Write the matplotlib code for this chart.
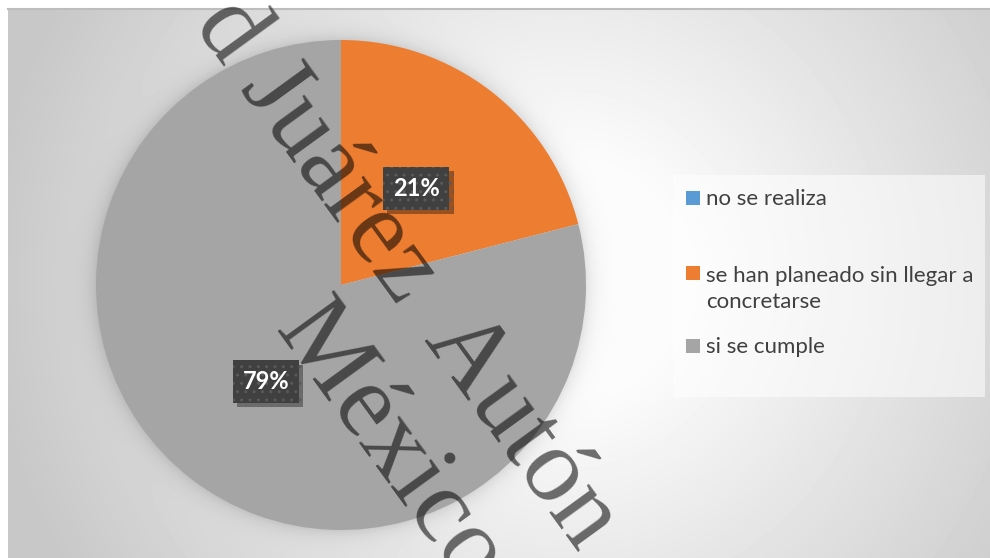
import textwrap
import numpy as np
import matplotlib.pyplot as plt
from matplotlib import patheffects
from matplotlib.patches import Rectangle

categories = ['no se realiza', 'se han planeado sin llegar a concretarse', 'si se cumple']
values = [0, 21, 79]
colors = ['#5B9BD5', '#ED7D31', '#A5A5A5']
# watermark pieces (the original line is a little stretched, so it is set in parts)
watermark = ['d Juárez', 'Autón', 'México']

W, H = 990, 558
fig = plt.figure(figsize=(W / 100, H / 100), dpi=100)


def px(x, y):
    # pixel position (from top-left) -> figure fraction
    return x / W, 1 - y / H


# chart area: soft radial gradient plus pie shadow
x0, y0 = 8, 9
cx, cy, R = 341, 285, 245
bg = fig.add_axes([x0 / W, 0, (W - x0) / W, (H - y0) / H])
yy, xx = np.mgrid[y0:H, x0:W] + 0.5
r = np.hypot(xx - 560, yy - 280)
shade = 252 - 52 * np.clip((r - 120) / 450, 0, 1)
dist = np.hypot(xx - cx, yy - cy) - R
shade -= 26 * np.exp(-np.clip(dist, 0, None) / 9)
bg.imshow(np.clip(shade, 0, 255) / 255, cmap='gray', vmin=0, vmax=1,
          aspect='auto', interpolation='bilinear')
bg.axis('off')
fig.add_artist(plt.Line2D([x0 / W, 1], [1 - y0 / H] * 2, color='#BDBDBD', lw=1.5))

# pie
ax = fig.add_axes([(cx - R) / W, 1 - (cy + R) / H, 2 * R / W, 2 * R / H])
wedges, texts, autotexts = ax.pie(
    values, colors=colors, startangle=90, counterclock=False,
    autopct=lambda p: f'{p:.0f}%' if p > 0 else '', pctdistance=0.5,
    textprops=dict(color='white', fontsize=17, fontweight='bold', family='Lato'),
    wedgeprops=dict(linewidth=0))
ax.set_xlim(-1, 1)
ax.set_ylim(-1, 1)
for t in autotexts:
    if t.get_text():
        t.set_bbox(dict(boxstyle='square,pad=0.42', fc='#404040', ec='#595959',
                        lw=0, hatch='..'))
        t.get_bbox_patch().set_path_effects([
            patheffects.withSimplePatchShadow(offset=(3, -3), shadow_rgbFace='black',
                                              alpha=0.35)])

# legend, drawn by hand to follow the original spacing
fig.add_artist(Rectangle(px(673, 397), 312 / W, 222 / H, transform=fig.transFigure,
                         fc='white', alpha=0.55, ec='none'))
baselines = [205, 280, 353]
for label, color, yb in zip(categories, colors, baselines):
    fig.add_artist(Rectangle(px(686, yb), 14 / W, 14 / H, transform=fig.transFigure,
                             fc=color, ec='none'))
    wrapped = textwrap.fill(label, 28)
    y_last = yb + 28 * wrapped.count('\n')
    fig.text(*px(706, y_last), wrapped, va='baseline', ha='left',
             fontsize=16, family='Lato', color='#404040', linespacing=1.38)

# watermark
starts = [(193, 24), (423, 340), (274, 330)]
for word, (sx, sy) in zip(watermark, starts):
    fig.text(*px(sx, sy), word, rotation=-54, rotation_mode='anchor',
             ha='left', va='baseline', fontsize=76, family='Liberation Serif',
             color='black', alpha=0.56, zorder=10)

fig.savefig('out.png', dpi=100)
